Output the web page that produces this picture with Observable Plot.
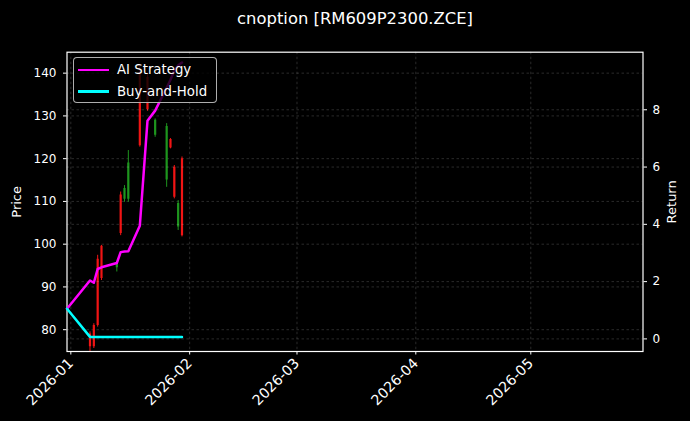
<!DOCTYPE html>
<html>
<head>
<meta charset="utf-8">
<script src="https://cdn.jsdelivr.net/npm/d3@7"></script>
<script src="https://cdn.jsdelivr.net/npm/@observablehq/plot@0.6"></script>
<style>
  html, body { margin: 0; padding: 0; background: #000; }
  #wrap { position: relative; width: 690px; height: 421px; background: #000; font-family: "DejaVu Sans", sans-serif; overflow: hidden; }
  #wrap svg { position: absolute; left: 0; top: 0; }
  .legend { position: absolute; left: 73px; top: 57px; width: 144px; height: 46px; box-sizing: border-box;
            border: 1px solid rgba(204,204,204,0.85); border-radius: 4px; background: rgba(0,0,0,0.8);
            color: #fff; font-size: 13.3px; font-family: "DejaVu Sans", sans-serif; }
  .legend .sw { position: absolute; left: 4px; width: 31px; height: 2.8px; }
  .legend .lb { position: absolute; left: 43px; line-height: 15px; white-space: nowrap; }
</style>
</head>
<body>
<div id="wrap"></div>
<script>
// ---- data ----
const title = "cnoption [RM609P2300.ZCE]";
const candleDates = ["2026-01-06","2026-01-07","2026-01-08","2026-01-09","2026-01-13","2026-01-14","2026-01-15","2026-01-16",
                     "2026-01-19","2026-01-21","2026-01-23","2026-01-26","2026-01-27","2026-01-28","2026-01-29","2026-01-30"];
const openP  = [79,   81,   96.5, 99.5, 94.5, 111.5, 110.5, 110.5, 140, 139, 125.5, 115,   124.5, 118,   104,   120];
const highP  = [79.5, 81.4, 97.4, 99.7, 95.8, 112.2, 113.7, 121.9, 142, 140, 129.3, 128.2, 124.7, 118.4, 110.2, 120.4];
const lowP   = [74.5, 75.6, 80.6, 91.5, 93.5, 102,   109.8, 109.8, 122.7, 131.1, 125, 113.3, 122.3, 110.6, 103.2, 101.7];
const closeP = [76,   76,   81,   92,   95.5, 102.5, 113,   119,   123, 131.5, 129,   127.5, 122.5, 111,   109.5, 102];

const retDates = ["2025-12-31","2026-01-06","2026-01-07","2026-01-08","2026-01-09","2026-01-13","2026-01-14","2026-01-15","2026-01-16",
                  "2026-01-19","2026-01-21","2026-01-23","2026-01-26","2026-01-27","2026-01-28","2026-01-29","2026-01-30"];
const aiReturn = [1.05, 2.04, 1.96, 2.44, 2.5, 2.65, 3.03, 3.05, 3.06, 3.95, 7.62, 7.97, 8.77, 9.05, 9.37, 9.55, 9.65];
const bhReturn = [1.05, 0.07, 0.07, 0.07, 0.07, 0.07, 0.07, 0.07, 0.07, 0.07, 0.07, 0.07, 0.07, 0.07, 0.07, 0.07, 0.07];

const monthTickLabels = ["2026-01","2026-02","2026-03","2026-04","2026-05"];
const priceTicks = [80, 90, 100, 110, 120, 130, 140];
const returnTicks = [0, 2, 4, 6, 8];
const xDomainDates = ["2025-12-31T00:00:00Z", "2026-05-30T06:30:00Z"];
const priceDomain = [74.9, 144.9];
const returnDomain = [-0.44, 10.01];

// ---- build ----
const upColor = "#1e951e", downColor = "#f01414";
const candles = candleDates.map((d, i) => ({date: new Date(d), open: openP[i], high: highP[i], low: lowP[i], close: closeP[i]}));
const rets = retDates.map((d, i) => ({date: new Date(d), ai: aiReturn[i], bh: bhReturn[i]}));
const monthTicks = monthTickLabels.map(s => new Date(s + "-01T00:00:00Z"));
const xDomain = xDomainDates.map(s => new Date(s));
const candleColor = d => d.close >= d.open ? upColor : downColor;

const common = {width: 690, height: 421, marginLeft: 66.5, marginRight: 47.5, marginTop: 51.7, marginBottom: 70};
const gridStyle = {stroke: "#ffffff", strokeOpacity: 0.28, strokeWidth: 0.6, strokeDasharray: "2.5,2.5"};
const style = {background: "transparent", color: "white", fontFamily: "DejaVu Sans, sans-serif", fontSize: "12px", overflow: "visible"};

const p1 = Plot.plot({
  ...common,
  style,
  x: {type: "utc", domain: xDomain},
  y: {domain: priceDomain},
  marks: [
    Plot.gridY(priceTicks, gridStyle),
    Plot.gridX(monthTicks, gridStyle),
    Plot.ruleX(candles, {x: "date", y1: "low", y2: "high", stroke: candleColor, strokeWidth: 1, clip: true}),
    Plot.ruleX(candles, {x: "date", y1: "open", y2: "close", stroke: candleColor, strokeWidth: 2.2, clip: true}),
    Plot.frame({stroke: "white", strokeWidth: 1.2}),
    Plot.axisY(priceTicks, {anchor: "left", tickSize: 3.5, tickPadding: 7, label: null, fontSize: 12}),
    Plot.axisX(monthTicks, {anchor: "bottom", tickFormat: d3.utcFormat("%Y-%m"), tickRotate: -45, tickSize: 3.5, tickPadding: 6, label: null, fontSize: 14.2}),
    Plot.text(["Price"], {text: d => d, frameAnchor: "left", dx: -49.8, rotate: -90, textAnchor: "middle", lineAnchor: "middle", fill: "white", fontSize: 13}),
    Plot.text([title], {text: d => d, frameAnchor: "top", dy: -28, textAnchor: "middle", lineAnchor: "bottom", fill: "white", fontSize: 16.4})
  ]
});

const p2 = Plot.plot({
  ...common,
  style,
  x: {type: "utc", domain: xDomain, axis: null},
  y: {domain: returnDomain},
  marks: [
    Plot.gridY(returnTicks, gridStyle),
    Plot.line(rets, {x: "date", y: "ai", stroke: "#ff00ff", strokeWidth: 2.5}),
    Plot.line(rets, {x: "date", y: "bh", stroke: "#00ffff", strokeWidth: 2.5}),
    Plot.axisY(returnTicks, {anchor: "right", tickSize: 3.5, tickPadding: 6, label: null, fontSize: 12}),
    Plot.text(["Return"], {text: d => d, frameAnchor: "right", dx: 29.2, rotate: -90, textAnchor: "middle", lineAnchor: "middle", fill: "white", fontSize: 13})
  ]
});

const wrap = document.getElementById("wrap");
wrap.appendChild(p1);
wrap.appendChild(p2);

const legend = document.createElement("div");
legend.className = "legend";
legend.innerHTML =
  '<div class="sw" style="top:10.6px;background:#ff00ff"></div><div class="lb" style="top:4px">AI Strategy</div>' +
  '<div class="sw" style="top:32.3px;background:#00ffff"></div><div class="lb" style="top:26px">Buy-and-Hold</div>';
wrap.appendChild(legend);
</script>
</body>
</html>
